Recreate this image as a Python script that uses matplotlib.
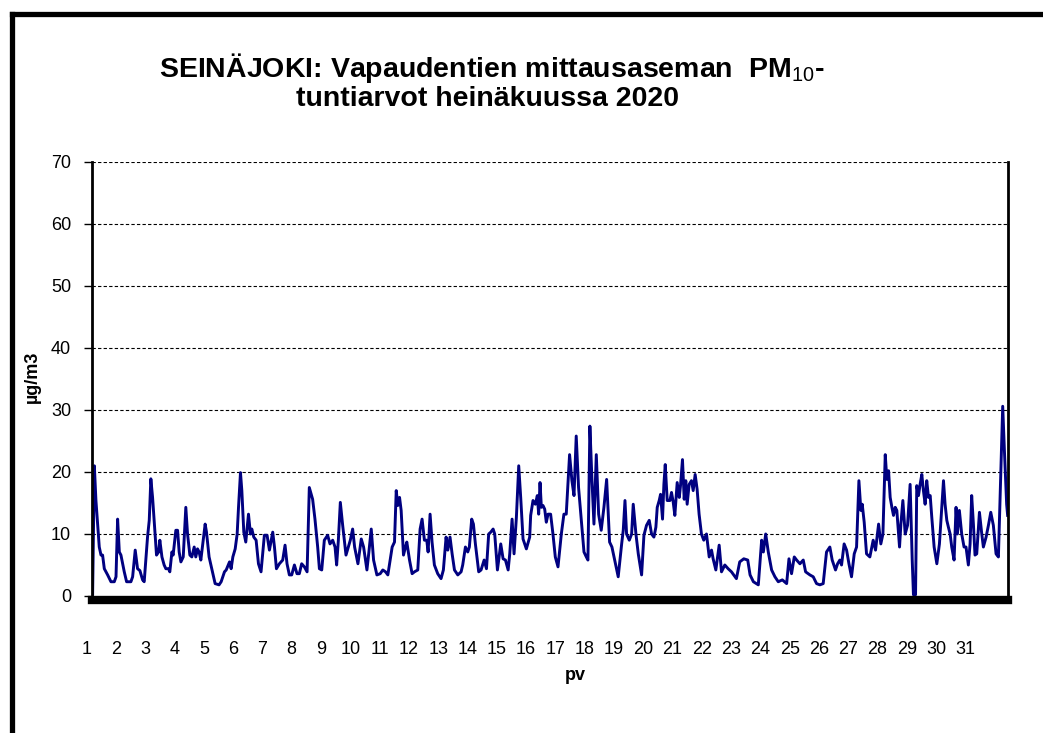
import numpy as np
import matplotlib.pyplot as plt
from matplotlib.lines import Line2D
import matplotlib.transforms as mtransforms

plt.rcParams['font.family'] = ['Liberation Sans', 'DejaVu Sans']
plt.rcParams['mathtext.fontset'] = 'custom'
plt.rcParams['mathtext.rm'] = 'Liberation Sans'
plt.rcParams['mathtext.bf'] = 'Liberation Sans:bold'

# hour of month (0 = 1.7. 00:00) and PM10 value
hours = [0.5, 1.9, 3.2, 5.9, 7.3, 8.6, 10.0, 12.7, 15.4, 18.1, 19.5, 20.8, 22.2, 23.5, 26.2, 28.1,
         31.6, 33.0, 35.1, 37.0, 38.9, 41.1, 42.4, 45.1, 46.5, 47.8, 49.2, 52.4, 54.1, 55.1, 56.8,
         58.6, 60.0, 62.2, 63.2, 64.9, 65.9, 68.1, 69.5, 70.8, 72.2, 74.1, 76.2, 77.6, 79.5, 81.1,
         83.0, 84.3, 85.7, 87.0, 88.4, 90.3, 91.9, 93.0, 95.1, 97.8, 100.0, 103.2, 104.9,
         107.6, 109.0, 111.7, 113.0, 114.4, 116.3, 117.9, 119.0, 120.6, 121.7, 123.3, 124.9, 127.1,
         128.7, 129.8, 131.4, 133.3, 135.2, 137.3, 140.0, 142.2, 144.1, 146.8, 148.2, 149.8, 152.2,
         154.9, 156.8, 158.4, 160.3, 162.2, 164.4, 166.5, 168.4, 170.3, 172.5, 174.7, 176.5, 179.2,
         181.1, 183.3, 184.7, 186.6, 188.7, 191.4, 193.3, 195.5, 197.4, 198.7, 200.1, 201.7, 203.6,
         206.3, 208.2, 209.8, 211.7,
         213.3, 216.0, 218.7, 220.6, 223.3, 224.9, 226.8, 228.7, 231.4, 234.1, 236.2, 238.4, 240.3,
         243.8, 245.7, 247.1, 248.4, 249.8, 251.1, 253.0, 254.6, 255.7, 257.9, 260.0, 261.9, 264.6,
         266.5, 268.1, 270.0, 271.9, 273.0, 274.6, 276.2, 278.1, 280.8, 283.5, 285.4, 287.6, 289.0,
         290.8, 292.5, 294.4, 297.1, 299.8, 301.1, 303.3, 305.2, 306.5, 308.4, 309.8, 311.4, 314.1,
         316.0, 318.5, 320.4, 322.2, 323.9, 325.8, 327.1, 329.3, 332.0, 333.9, 335.8, 338.0, 339.3,
         341.2, 342.8, 344.7, 346.6, 348.2, 350.1, 352.8, 355.5, 356.3, 358.2, 360.1, 361.7, 362.8,
         363.9, 365.0, 366.3, 367.7, 369.0, 370.4, 372.5, 374.4, 376.3, 378.5, 381.2, 383.3, 385.2,
         387.9, 389.8, 391.5, 393.3, 395.2, 397.4, 399.6, 401.5, 402.8, 404.4, 406.1, 407.7, 409.6,
         411.5, 413.6, 415.8, 418.0, 420.4, 422.3, 427.4,
         430.2, 431.5, 432.9, 434.2, 436.4, 438.3, 439.6, 441.8, 443.7, 446.4, 448.3, 450.4, 452.6,
         454.5, 456.4, 458.0, 459.1, 460.7, 461.8, 463.4, 464.5, 465.6, 467.2, 469.4, 470.7, 472.1,
         473.4, 475.3, 477.0, 478.0, 479.6, 481.0, 482.3, 483.4, 485.0, 486.9, 488.3, 489.9, 491.5,
         493.1, 495.0, 496.9, 499.1, 501.3, 503.2, 504.5, 506.7, 509.4, 511.3, 514.0, 516.7, 519.4,
         523.4, 526.1, 529.4, 532.6, 534.5, 537.2, 541.2, 543.9, 545.3, 547.2, 549.3, 552.0, 554.7,
         557.4, 560.7, 564.2, 566.1, 568.2, 570.4, 572.3, 575.0, 577.7, 579.6, 583.1, 585.8, 588.5,
         591.2, 593.9, 596.6, 599.3, 601.2, 603.9, 605.6, 607.4, 608.8, 610.9, 612.9, 614.8, 616.9,
         619.1, 621.0, 622.9, 624.5, 625.6, 627.2, 629.1, 631.8, 634.5, 636.4,
         638.9, 640.7, 642.4, 644.3, 645.6, 647.0, 648.3, 649.7, 651.0, 652.4, 653.7, 655.9, 657.0,
         658.6, 660.5, 662.4, 664.5, 666.2, 667.2, 668.9, 669.9, 671.3, 672.6, 674.0, 675.3, 676.7,
         678.0, 679.4, 680.8, 682.1, 684.0, 686.2, 688.3, 690.2, 691.6, 692.9, 694.3, 695.6, 697.0,
         698.3, 700.2, 701.8, 702.9, 704.5, 706.4, 708.3, 709.9, 711.8, 713.2, 714.5, 715.9, 717.2,
         718.6, 720.8, 722.7, 724.0, 726.2, 728.1, 730.0, 732.1, 734.3, 736.2, 738.1, 739.7, 741.1,
         742.9, 743.7]
pm10 = [0.3, 21.0, 15.4, 7.9, 6.6, 6.6, 4.4, 3.4, 2.3, 2.3, 3.1, 12.4, 7.1, 6.6, 3.9, 2.3,
        2.3, 3.1, 7.4, 4.4, 4.1, 2.6, 2.3, 9.5, 12.2, 18.9, 15.9, 6.6, 7.1, 9.0, 6.3,
        5.0, 4.4, 4.4, 3.9, 7.1, 6.6, 10.6, 10.6, 7.1, 5.5, 6.3, 14.3, 10.0, 6.6, 6.3,
        7.9, 6.3, 7.6, 7.1, 5.8, 9.0, 11.6, 10.3, 6.3, 3.9, 2.0, 1.8, 2.3,
        3.9, 4.2, 5.5, 4.4, 6.3, 7.6, 10.0, 14.3, 19.9, 17.0, 10.3, 8.7, 13.2,
        10.0, 10.8, 9.5, 9.0, 5.2, 3.9, 9.8, 9.8, 7.4, 10.3, 7.9, 4.4, 5.2,
        5.8, 8.2, 5.2, 3.4, 3.4, 5.0, 3.6, 3.6, 5.2, 4.7, 3.9, 17.5, 15.6,
        12.4, 7.9, 4.4, 4.2, 9.0, 9.8, 8.4, 9.0, 7.9, 5.0, 9.0, 15.1, 11.4,
        6.6, 7.9, 9.0, 10.8,
        7.9, 5.2, 9.2, 7.9, 4.2, 7.1, 10.8, 5.8, 3.4, 3.6, 4.2, 3.9, 3.4,
        7.9, 8.7, 17.0, 14.6, 15.9, 13.8, 6.6, 7.9, 8.7, 5.8, 3.6, 3.9, 4.2,
        10.8, 12.4, 9.0, 9.0, 7.1, 13.2, 8.7, 5.0, 3.6, 2.8, 4.2, 9.5, 7.4,
        9.5, 6.8, 4.2, 3.4, 3.9, 5.0, 7.9, 7.1, 7.9, 12.4, 11.6, 8.4, 3.9,
        4.2, 5.8, 4.4, 10.0, 10.3, 10.8, 10.0, 4.2, 8.4, 6.0, 5.8, 4.2, 6.8,
        12.4, 6.8, 12.7, 21.0, 15.9, 9.2, 7.6, 9.5, 13.0, 15.4, 14.8, 16.2, 13.2,
        18.3, 14.3, 14.6, 14.0, 11.9, 13.2, 13.2, 10.0, 6.3, 4.7, 10.0, 13.2, 13.2,
        22.8, 18.6, 16.2, 25.8, 17.5, 12.2, 7.1, 6.3, 5.8, 27.4, 18.6, 11.6, 22.8,
        13.2, 10.6, 14.3, 18.8, 8.7, 7.9, 3.1,
        8.4, 10.6, 15.4, 10.0, 9.0, 10.0, 14.8, 10.0, 6.8, 3.4, 9.8, 11.4, 12.2,
        10.0, 9.5, 11.1, 14.3, 15.4, 16.4, 12.4, 18.0, 21.2, 15.4, 15.4, 16.7, 15.1,
        13.0, 18.3, 15.9, 17.8, 22.0, 15.6, 18.6, 14.8, 18.0, 18.6, 17.0, 19.6, 17.2,
        13.2, 10.0, 9.0, 10.0, 6.3, 7.4, 6.0, 4.2, 8.2, 3.9, 5.0, 4.4, 3.9,
        2.8, 5.5, 6.0, 5.8, 3.4, 2.3, 1.8, 9.0, 7.1, 10.0, 7.1, 4.2, 3.1,
        2.3, 2.6, 2.0, 6.0, 3.6, 6.3, 5.8, 5.2, 5.8, 3.9, 3.4, 3.1, 2.0,
        1.8, 2.0, 7.1, 7.9, 5.8, 4.2, 5.2, 5.8, 5.0, 8.4, 7.4, 5.2, 3.1,
        6.8, 7.9, 18.6, 13.8, 14.8, 11.9, 6.8, 6.3, 9.0, 7.4,
        11.6, 8.4, 10.0, 22.8, 18.8, 20.2, 15.9, 14.3, 13.0, 14.3, 13.8, 7.9, 11.6,
        15.4, 10.0, 11.4, 18.0, 5.8, 0.2, 0.2, 17.8, 16.2, 18.0, 19.6, 17.0, 14.8,
        18.6, 15.9, 16.2, 12.7, 7.9, 5.2, 8.4, 14.3, 18.6, 14.8, 12.2, 11.1, 10.0,
        7.9, 5.8, 14.3, 10.0, 13.8, 10.0, 7.9, 7.9, 5.0, 8.4, 16.2, 11.6, 6.6,
        6.8, 13.5, 10.0, 7.9, 9.5, 11.4, 13.5, 11.4, 6.8, 6.3, 19.6, 30.6, 23.4,
        14.8, 13.0]

days = [str(d) for d in range(1, 32)]

W, H = 1043, 733
fig = plt.figure(figsize=(W / 100, H / 100), dpi=100)

# outer chart frame (cropped screenshot: only left and top visible)
fig.add_artist(Line2D([12 / W, 12 / W], [0, 1 - 14 / H], color='black', lw=3.8,
                      transform=fig.transFigure, solid_capstyle='projecting'))
fig.add_artist(Line2D([12 / W, 1.02], [1 - 14 / H, 1 - 14 / H], color='black', lw=3.8,
                      transform=fig.transFigure, solid_capstyle='projecting'))

ax = fig.add_axes([92 / W, 1 - 596 / H, 916 / W, 434 / H])
ax.plot(hours, pm10, color='#000080', lw=2.1, solid_joinstyle='round')

ax.set_xlim(0, 744)
ax.set_ylim(0, 70)
ax.set_yticks(range(0, 71, 10))
ax.tick_params(axis='y', direction='out', length=6, width=1, pad=9, labelsize=13)
ax.set_xticks([])

for y in range(10, 71, 10):
    ax.axhline(y, color='black', lw=0.8, ls=(0, (3, 2)), zorder=0)

ax.spines['top'].set_visible(False)
ax.spines['right'].set_linewidth(2)
ax.spines['left'].set_linewidth(2)
ax.spines['bottom'].set_linewidth(6)
ax.spines['bottom'].set_position(('outward', 3))

# day labels along the x axis
trans = mtransforms.blended_transform_factory(ax.transData, fig.transFigure)
label_pos = np.linspace(-4.3, 709.4, len(days))
for x, d in zip(label_pos, days):
    ax.text(x, 1 - 649 / H, d, transform=trans, ha='center', va='center',
            fontsize=13, clip_on=False)

fig.text(575 / W, 1 - 676 / H, 'pv', ha='center', va='center', fontsize=13, fontweight='bold')
fig.text(32 / W, 1 - 377 / H, 'µg/m3', ha='center', va='center', rotation=90,
         fontsize=13, fontweight='bold')

fig.text(492 / W, 1 - 68 / H, r'SEINÄJOKI: Vapaudentien mittausaseman  PM$_{\mathrm{10}}$-',
         ha='center', va='center', fontsize=20.5, fontweight='bold')
fig.text(488 / W, 1 - 99 / H, 'tuntiarvot heinäkuussa 2020',
         ha='center', va='center', fontsize=20.5, fontweight='bold')

fig.savefig('out.png', dpi=100)
